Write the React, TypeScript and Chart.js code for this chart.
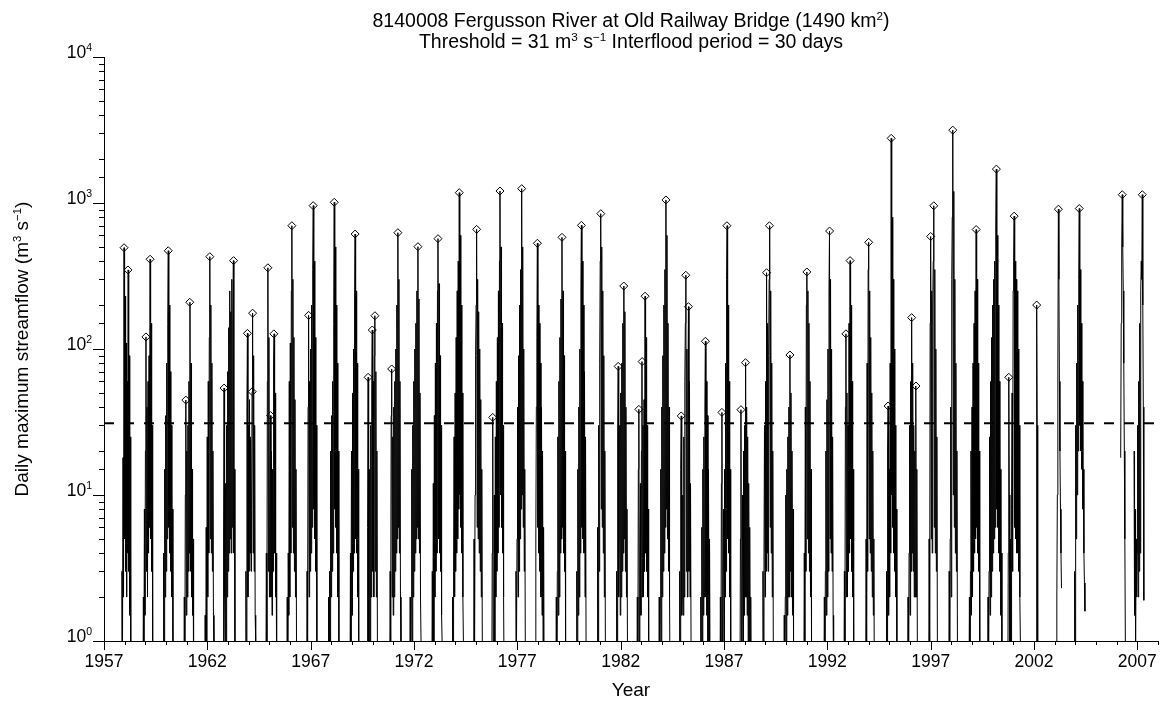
import React, { useEffect, useRef } from 'react';
import { Chart, registerables } from 'chart.js';

Chart.register(...registerables);

const FONT = "'Liberation Sans', Arial, Helvetica, sans-serif";

// ---- axes ----
const X_MIN = 1957;
const X_MAX = 2008;
const Y_MIN = 1;
const Y_MAX = 10000;
const yearLabels = [1957, 1962, 1967, 1972, 1977, 1982, 1987, 1992, 1997, 2002, 2007];
const decadeExponents = [0, 1, 2, 3, 4];
const THRESHOLD = 31;

// ---- daily flow (m3/s), sampled every STEP years; each row = [start year, flows...] ----
const STEP = 0.025;

const flow1950s: [number, number[]][] = [
  [1957.845, [0.3, 3, 0.8, 18, 2, 494, 5, 230, 3, 110, 2, 60, 4, 348, 3, 90, 1.5, 25, 1, 0.5]],
  [1958.88, [0.3, 2, 0.5, 8, 1.5, 20, 121, 3, 40, 2, 60, 4, 90, 6, 412, 5, 150, 3, 30, 1, 0.4]],
  [1959.86, [0.3, 4, 0.8, 15, 2, 35, 3, 80, 5, 150, 471, 6, 200, 4, 70, 3, 30, 2, 8, 1, 0.5, 0.3]],
];

const flow1960s: [number, number[]][] = [
  [1960.86, [0.3, 2, 0.5, 10, 44.7, 1.5, 20, 2, 30, 3, 60, 4, 209, 3, 80, 2, 15, 1.5, 5, 0.5]],
  [1961.87, [0.3, 1.5, 0.5, 6, 1, 25, 2, 60, 4, 120, 429, 5, 200, 4, 80, 3, 20, 1.5, 1, 0.3]],
  [1962.76, [0.3, 5, 54, 2, 0.5, 12, 1, 30, 2, 70, 3, 140, 4, 250, 5, 180, 4, 300, 6, 150, 403, 4, 15, 1, 0.3]],
  [1963.84, [0.3, 3, 0.8, 40, 128, 2, 30, 3, 45, 4, 25, 3, 8, 51, 176, 4, 90, 3, 30, 1.5, 1, 0.3]],
  [1964.83, [0.3, 4, 1, 60, 360, 3, 120, 2, 6, 35, 2, 20, 1.5, 15, 3, 80, 127, 4, 50, 2, 4, 0.5, 0.3]],
  [1965.84, [0.3, 2, 0.5, 4, 1.5, 60, 2, 110, 4, 250, 699, 6, 300, 4, 120, 3, 45, 2, 15, 1, 0.4]],
  [1966.8, [0.3, 3, 1, 40, 170, 2, 60, 3, 100, 4, 200, 6, 350, 959, 8, 400, 5, 120, 3, 30, 1, 0.5]],
  [1967.84, [0.3, 2, 0.5, 3, 1, 20, 2, 35, 3, 60, 4, 150, 1011, 8, 500, 6, 200, 4, 80, 2, 20, 1, 0.4]],
  [1968.9, [0.3, 4, 0.8, 20, 1.5, 50, 3, 100, 4, 200, 613, 5, 250, 4, 80, 2, 15, 1, 0.3]],
  [1969.73, [0.3, 6, 64, 1, 0.5, 15, 1, 30, 2, 50, 135, 3, 60, 2, 90, 169, 3, 70, 2, 20, 1, 0.6, 0.3]],
];

const flow1970s: [number, number[]][] = [
  [1970.82, [0.3, 3, 1, 35, 73, 2, 25, 1.5, 40, 2, 60, 3, 100, 4, 200, 5, 626, 6, 300, 4, 60, 2, 1, 0.3]],
  [1971.79, [0.3, 2, 0.5, 2, 15, 1, 30, 2, 60, 3, 100, 4, 150, 5, 250, 6, 502, 5, 220, 4, 50, 2, 1, 0.3]],
  [1972.86, [0.3, 3, 0.5, 12, 1, 35, 2, 80, 3, 150, 4, 250, 570, 5, 280, 4, 90, 3, 30, 1.5, 1, 0.3]],
  [1973.84, [0.3, 2, 0.5, 3, 25, 2, 50, 3, 120, 4, 250, 5, 400, 8, 1177, 10, 600, 6, 200, 4, 50, 2, 1, 0.3]],
  [1974.88, [0.3, 5, 1, 10, 90, 200, 660, 6, 300, 5, 180, 4, 100, 3, 45, 2, 15, 1, 0.3]],
  [1975.76, [0.3, 4, 34, 1, 0.5, 10, 1, 25, 2, 60, 3, 120, 4, 250, 6, 400, 1208, 10, 500, 6, 150, 4, 30, 2, 0.5, 0.3]],
  [1976.91, [0.3, 3, 1, 5, 40, 2, 90, 3, 200, 5, 350, 8, 1254, 10, 500, 6, 100, 3, 15, 1, 0.3]],
  [1977.87, [0.3, 5, 40, 120, 530, 6, 200, 4, 150, 3, 80, 2, 40, 1.5, 20, 1, 6, 0.5, 0.3]],
  [1978.86, [0.3, 2, 0.5, 3, 25, 1.5, 60, 2, 120, 4, 220, 5, 582, 6, 250, 4, 90, 3, 20, 1, 0.4, 0.3]],
  [1979.85, [0.3, 3, 0.5, 15, 1.5, 40, 2, 100, 4, 250, 703, 6, 400, 5, 200, 4, 70, 2, 25, 1, 0.5, 0.3]],
];

const flow1980s: [number, number[]][] = [
  [1980.86, [0.3, 6, 1, 30, 3, 80, 400, 845, 8, 500, 6, 250, 4, 90, 2, 20, 1, 0.3]],
  [1981.78, [0.3, 3, 0.8, 25, 76, 2, 5, 30, 1.5, 50, 2, 80, 3, 150, 4, 270, 5, 180, 3, 40, 2, 8, 0.8, 0.3]],
  [1982.78, [0.3, 2, 0.5, 15, 38.6, 1, 3, 12, 1.5, 20, 82, 2, 30, 2, 45, 3, 230, 4, 120, 3, 30, 2, 8, 1, 0.3]],
  [1983.84, [0.3, 2, 0.5, 2, 15, 1, 40, 2, 90, 3, 200, 4, 350, 6, 1049, 8, 600, 5, 150, 3, 40, 2, 0.5, 0.3]],
  [1984.83, [0.3, 3, 0.8, 15, 34.8, 1.5, 2, 10, 1.5, 25, 2, 60, 150, 320, 3, 100, 2, 50, 195, 3, 60, 2, 12, 1, 0.3]],
  [1985.85, [0.3, 2, 0.5, 6, 1, 15, 1.5, 25, 2, 40, 113, 2, 60, 1.5, 35, 1, 15, 1, 5, 0.6, 0.3]],
  [1986.8, [0.3, 2, 0.5, 12, 36.8, 1, 1.5, 8, 1, 15, 2, 80, 3, 300, 699, 5, 200, 4, 60, 2, 15, 1, 0.3]],
  [1987.77, [0.3, 5, 38.4, 1, 0.5, 10, 1, 20, 1.5, 30, 2, 80.6, 2, 40, 1.5, 25, 1, 12, 1, 6, 0.5, 2, 0.3]],
  [1988.86, [0.3, 3, 0.8, 4, 30, 2, 60, 3, 333, 4, 150, 3, 90, 300, 699, 6, 250, 4, 80, 2, 20, 1, 0.3]],
  [1989.89, [0.3, 1.5, 0.5, 2, 10, 1, 15, 1.5, 25, 2, 40, 2, 91, 3, 50, 2, 20, 1.5, 8, 1, 0.3]],
];

const flow1990s: [number, number[]][] = [
  [1990.86, [0.3, 4, 1, 40, 3, 200, 337, 5, 250, 4, 150, 3, 60, 2, 15, 1, 0.3]],
  [1991.83, [0.3, 2, 0.5, 3, 20, 1.5, 45, 2, 100, 3, 250, 643, 5, 300, 4, 100, 3, 25, 1.5, 0.4, 0.3]],
  [1992.8, [0.3, 3, 1, 40, 127, 2, 50, 2, 30, 3, 150, 4, 403, 5, 200, 3, 60, 2, 15, 1, 0.3]],
  [1993.85, [0.3, 5, 1, 80, 3, 350, 538, 5, 250, 4, 120, 3, 50, 2, 20, 1.5, 5, 0.5, 0.3]],
  [1994.84, [0.3, 3, 0.8, 20, 40.7, 1.5, 15, 2, 80, 4, 2773, 10, 800, 6, 300, 4, 100, 3, 30, 2, 8, 0.8, 0.3]],
  [1995.88, [0.3, 2, 0.5, 4, 30, 1.5, 60, 3, 164, 4, 80, 3, 30, 2, 20, 2, 55.8, 2, 15, 1, 0.3]],
  [1996.9, [0.3, 5, 1, 150, 590, 5, 250, 4, 200, 400, 957, 6, 350, 4, 100, 3, 25, 1, 0.3]],
  [1997.87, [0.3, 3, 0.8, 5, 40, 2, 300, 800, 3156, 10, 1200, 6, 300, 4, 80, 3, 20, 1, 0.3]],
  [1998.85, [0.3, 2, 0.5, 3, 20, 1.5, 40, 2, 80, 3, 150, 4, 250, 5, 658, 6, 300, 4, 80, 3, 20, 1, 0.3]],
  [1999.75, [0.3, 2, 0.5, 3, 25, 1.5, 60, 2, 120, 3, 200, 4, 300, 5, 400, 6, 700, 1707, 8, 600, 6, 200, 4, 60, 3, 15, 1.5, 4, 0.3]],
];

const flow2000s: [number, number[]][] = [
  [2000.73, [0.3, 4, 64, 10, 0.3]],
  [2000.84, [0.3, 5, 1, 8, 50, 3, 250, 400, 813, 6, 400, 5, 300, 4, 250, 4, 100, 3, 30, 2, 1, 0.3]],
  [2002.105, [0.3, 200, 30, 0.3]],
  [2003.08, [0.3, 2, 10, 80, 907, 300, 60, 20, 8, 4, 2.3]],
  [2003.94, [0.3, 3, 1, 30, 5, 80, 10, 200, 20, 300, 917, 30, 350, 20, 150, 15, 60, 8, 15, 4, 2.5, 1.6]],
  [2006.195, [18, 150, 500, 1140, 500, 250, 80, 20, 5, 1, 0.3]],
  [2006.84, [20, 1.5, 8, 1, 5, 2, 4, 30, 2, 60, 3, 150, 4, 250, 400, 300, 1140, 200, 40, 1.9]],
];

// ---- peaks over threshold (diamonds) ----
const peakYears = [
  1957.97, 1958.16, 1959.03, 1959.23, 1960.11, 1960.96, 1961.15, 1962.12, 1962.81, 1963.27,
  1963.94, 1964.17, 1964.19, 1964.93, 1965.06, 1965.22, 1966.09, 1966.9, 1967.12, 1968.14,
  1969.15, 1969.78, 1969.98, 1970.11, 1970.92, 1971.22, 1972.19, 1973.16, 1974.19, 1975.03,
  1975.81, 1976.16, 1977.21, 1977.97, 1979.16, 1980.1, 1981.04, 1981.88, 1982.15, 1982.88,
  1983.04, 1983.18, 1984.19, 1984.93, 1985.15, 1985.28, 1986.1, 1986.9, 1987.14, 1987.82,
  1988.04, 1989.06, 1989.2, 1990.19, 1991.01, 1992.11, 1992.9, 1993.1, 1994.0, 1994.94,
  1995.09, 1996.08, 1996.29, 1997.0, 1997.15, 1998.07, 1999.2, 2000.18, 2000.78, 2001.04,
  2002.13, 2003.18, 2004.19, 2006.27, 2007.24,
];
const peakFlows = [
  494, 348, 121, 412, 471, 44.7, 209, 429, 54, 403,
  128, 51, 176, 360, 35, 127, 699, 170, 959, 1011,
  613, 64, 135, 169, 73, 626, 502, 570, 1177, 660,
  34, 1208, 1254, 530, 582, 703, 845, 76, 270, 38.6,
  82, 230, 1049, 34.8, 320, 195, 113, 36.8, 699, 38.4,
  80.6, 333, 699, 91, 337, 643, 127, 403, 538, 40.7,
  2773, 164, 55.8, 590, 957, 3156, 658, 1707, 64, 813,
  200, 907, 917, 1140, 1140,
];

// ---- texts ----
type Seg = { t: string; sup?: boolean };
const titleLine1: Seg[] = [{ t: '8140008 Fergusson River at Old Railway Bridge (1490 km' }, { t: '2', sup: true }, { t: ')' }];
const titleLine2: Seg[] = [
  { t: 'Threshold = 31 m' }, { t: '3', sup: true }, { t: ' s' }, { t: '\u22121', sup: true },
  { t: ' Interflood period = 30 days' },
];
const yTitle: Seg[] = [
  { t: 'Daily maximum streamflow (m' }, { t: '3', sup: true }, { t: ' s' }, { t: '\u22121', sup: true }, { t: ')' },
];
const xTitle: Seg[] = [{ t: 'Year' }];

const TICK_FONT = 17.5;
const TITLE_FONT = 19.5;
const AXIS_TITLE_FONT = 19;

function drawRich(ctx: CanvasRenderingContext2D, segs: Seg[], x: number, y: number, size: number, align: 'left' | 'center' | 'right') {
  const supSize = size * 0.6;
  const widths = segs.map((s) => {
    ctx.font = `${s.sup ? supSize : size}px ${FONT}`;
    return ctx.measureText(s.t).width;
  });
  const total = widths.reduce((a, b) => a + b, 0);
  let cx = align === 'center' ? x - total / 2 : align === 'right' ? x - total : x;
  ctx.textAlign = 'left';
  ctx.textBaseline = 'alphabetic';
  segs.forEach((s, i) => {
    ctx.font = `${s.sup ? supSize : size}px ${FONT}`;
    ctx.fillText(s.t, cx, s.sup ? y - size * 0.37 : y);
    cx += widths[i];
  });
}

const decorPlugin = {
  id: 'decor',
  afterDraw(chart: any) {
    const { ctx, chartArea: a } = chart;
    const xs = chart.scales.x;
    const ys = chart.scales.y;
    ctx.save();
    ctx.strokeStyle = '#000';
    ctx.fillStyle = '#000';
    ctx.lineWidth = 1;

    // x ticks (every year, longer every 5 years)
    ctx.beginPath();
    const xTicks: number[] = xs.ticks && xs.ticks.length ? xs.ticks.map((t: any) => t.value) : [];
    xTicks.forEach((v) => {
      const px = Math.round(xs.getPixelForValue(v)) + 0.5;
      const major = yearLabels.includes(Math.round(v));
      ctx.moveTo(px, a.bottom);
      ctx.lineTo(px, a.bottom + (major ? 9 : 4));
    });
    // y ticks (log minor ticks)
    const yTicks: number[] = ys.ticks && ys.ticks.length ? ys.ticks.map((t: any) => t.value) : [];
    yTicks.forEach((v) => {
      const lg = Math.log10(v);
      const major = Math.abs(lg - Math.round(lg)) < 1e-9;
      const py = Math.round(ys.getPixelForValue(v)) + 0.5;
      ctx.moveTo(a.left, py);
      ctx.lineTo(a.left - (major ? 11 : 5), py);
    });
    ctx.stroke();

    // x tick labels
    ctx.font = `${TICK_FONT}px ${FONT}`;
    ctx.textAlign = 'center';
    ctx.textBaseline = 'alphabetic';
    yearLabels.forEach((yr) => {
      ctx.fillText(String(yr), xs.getPixelForValue(yr), a.bottom + 26);
    });
    // y tick labels 10^k
    decadeExponents.forEach((k) => {
      const py = ys.getPixelForValue(Math.pow(10, k));
      drawRich(ctx, [{ t: '10' }, { t: String(k), sup: true }], a.left - 12, py + 0.5, TICK_FONT, 'right');
    });

    // titles
    const cx = (a.left + a.right) / 2;
    drawRich(ctx, titleLine1, cx, 27, TITLE_FONT, 'center');
    drawRich(ctx, titleLine2, cx, 48, TITLE_FONT, 'center');
    drawRich(ctx, xTitle, cx, 696, AXIS_TITLE_FONT, 'center');

    ctx.save();
    ctx.translate(28, (a.top + a.bottom) / 2);
    ctx.rotate(-Math.PI / 2);
    drawRich(ctx, yTitle, 0, 0, AXIS_TITLE_FONT, 'center');
    ctx.restore();

    ctx.restore();
  },
};

function buildFlowPoints() {
  const rows = [...flow1950s, ...flow1960s, ...flow1970s, ...flow1980s, ...flow1990s, ...flow2000s];
  const pts: { x: number; y: number | null }[] = [];
  rows.forEach(([start, vals]) => {
    vals.forEach((v, i) => pts.push({ x: start + i * STEP, y: v }));
    pts.push({ x: start + (vals.length - 1) * STEP, y: null });
  });
  return pts;
}

export default function App() {
  const ref = useRef<HTMLCanvasElement>(null);

  useEffect(() => {
    if (!ref.current) return;
    const flowPts = buildFlowPoints();
    const peakPts = peakYears.map((x, i) => ({ x, y: peakFlows[i] }));
    const chart = new Chart(ref.current, {
      type: 'line',
      data: {
        datasets: [
          {
            label: 'POT peaks',
            data: peakPts,
            showLine: false,
            pointStyle: 'rectRot',
            pointRadius: 4,
            pointBorderWidth: 1,
            pointBorderColor: '#000',
            pointBackgroundColor: 'rgba(0,0,0,0)',
            borderColor: '#000',
            order: 0,
          } as any,
          {
            label: 'Threshold',
            data: [{ x: X_MIN, y: THRESHOLD }, { x: X_MAX, y: THRESHOLD }],
            borderColor: '#000',
            borderWidth: 2,
            borderDash: [10, 10],
            pointRadius: 0,
            order: 1,
          } as any,
          {
            label: 'Daily flow',
            data: flowPts,
            borderColor: '#000',
            borderWidth: 1,
            pointRadius: 0,
            tension: 0,
            spanGaps: false,
            order: 2,
          } as any,
        ],
      },
      options: {
        responsive: false,
        animation: false,
        events: [],
        layout: { padding: { left: 0, right: 7, top: 57, bottom: 0 } },
        plugins: { legend: { display: false }, tooltip: { enabled: false }, title: { display: false } },
        scales: {
          x: {
            type: 'linear',
            min: X_MIN,
            max: X_MAX,
            ticks: { display: false, stepSize: 1 },
            grid: { display: false },
            border: { display: true, color: '#000', width: 1 },
            afterFit: (s: any) => {
              s.height = 68;
            },
          },
          y: {
            type: 'logarithmic',
            min: Y_MIN,
            max: Y_MAX,
            ticks: { display: false },
            grid: { display: false },
            border: { display: true, color: '#000', width: 1 },
            afterFit: (s: any) => {
              s.width = 104;
            },
          },
        },
      } as any,
      plugins: [decorPlugin],
    });
    return () => chart.destroy();
  }, []);

  return (
    <div style={{ position: 'fixed', left: 0, top: 0, width: 1165, height: 709, background: '#fff' }}>
      <canvas ref={ref} width={1165} height={709} style={{ display: 'block', width: 1165, height: 709 }} />
    </div>
  );
}
